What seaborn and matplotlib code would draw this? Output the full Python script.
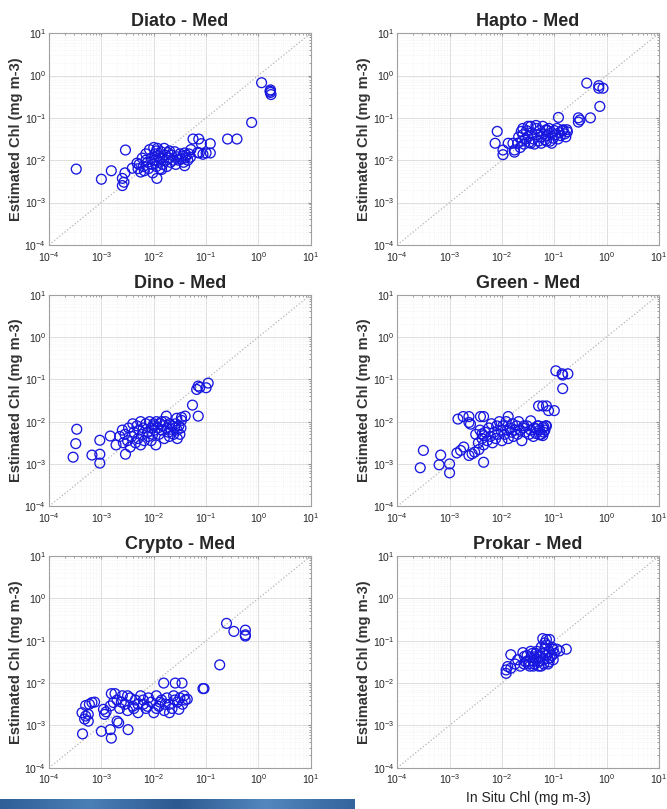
import numpy as np
import pandas as pd
import matplotlib
matplotlib.use("Agg")
import matplotlib.pyplot as plt
import seaborn as sns
from matplotlib.colors import LinearSegmentedColormap

# values are log10 of chl (mg m-3)
diato_x = [-3.48, -3.0, -2.81, -2.54, -2.6, -2.57, -2.6, -2.55, -2.41, -2.32, -1.94, -1.25, -1.14, -1.09,
           -0.92, -0.92, -1.13, -1.06, -1.0, -0.59, -0.41, -0.13, 0.06, 0.23, 0.23, 0.24, 0.22, -1.41, -1.41,
           -1.29, -1.16,
           -2.3, -2.28, -2.25, -2.22, -2.2, -2.18, -2.15, -2.12, -2.1, -2.08, -2.05, -2.03, -2.02, -2.0, -1.98,
           -1.97, -1.95, -1.93, -1.92, -1.9, -1.88, -1.86, -1.85, -1.83, -1.8, -1.78, -1.76, -1.75, -1.73, -1.7,
           -1.68, -1.66, -1.63, -1.6, -1.58, -1.55, -1.53, -1.5, -1.48, -1.45, -1.43, -1.4, -1.38, -1.35, -1.33,
           -1.3, -2.15, -1.95, -1.85, -1.7, -2.0, -1.9]
diato_y = [-2.21, -2.45, -2.25, -1.76, -2.43, -2.52, -2.6, -2.3, -2.19, -2.07, -2.43, -1.5, -1.5, -1.61,
           -1.61, -1.83, -1.83, -1.86, -1.83, -1.5, -1.5, -1.11, -0.17, -0.34, -0.4, -0.45, -0.37, -2.13, -1.83,
           -1.75, -1.82,
           -2.2, -2.1, -2.28, -1.95, -2.15, -2.25, -1.85, -2.05, -2.2, -1.75, -1.95, -2.1, -2.3, -1.7, -1.85,
           -2.0, -2.15, -1.72, -1.9, -2.05, -2.2, -1.8, -1.95, -2.1, -1.72, -1.88, -2.0, -2.15, -1.82, -1.95,
           -2.05, -1.88, -2.0, -1.8, -2.1, -1.92, -2.0, -1.85, -1.98, -1.9, -2.05, -1.95, -1.88, -2.0, -1.85,
           -1.93, -2.0, -1.78, -2.22, -1.78, -2.0, -1.95]

hapto_x = [-2.13, -2.09, -1.98, -1.98, -1.88, -1.79, -1.76, -1.76, -1.63, -0.92, -0.54, -0.54, -0.51, -0.31,
           -0.38, -0.15, -0.15, -0.07, -0.13, -0.83, -0.76, -1.15,
           -1.7, -1.68, -1.65, -1.62, -1.6, -1.58, -1.55, -1.53, -1.5, -1.48, -1.45, -1.43, -1.4, -1.38, -1.35,
           -1.33, -1.3, -1.28, -1.25, -1.22, -1.2, -1.18, -1.15, -1.12, -1.1, -1.08, -1.05, -1.02, -1.0, -0.98,
           -0.95, -0.93, -0.9, -0.88, -0.85, -0.8, -0.78, -0.75, -1.45, -1.25, -1.05, -1.6, -1.35, -1.5, -1.15]
hapto_y = [-1.6, -1.32, -1.76, -1.87, -1.6, -1.6, -1.76, -1.81, -1.32, -0.99, -1.0, -1.1, -1.05, -1.0,
           -0.18, -0.24, -0.3, -0.3, -0.73, -1.28, -1.28, -1.28,
           -1.6, -1.45, -1.7, -1.55, -1.4, -1.62, -1.5, -1.3, -1.45, -1.58, -1.2, -1.35, -1.5, -1.62, -1.25,
           -1.4, -1.55, -1.3, -1.45, -1.2, -1.38, -1.52, -1.3, -1.42, -1.25, -1.55, -1.35, -1.48, -1.3, -1.4,
           -1.25, -1.5, -1.35, -1.42, -1.3, -1.38, -1.45, -1.33, -1.6, -1.6, -1.6, -1.25, -1.18, -1.2, -1.55]

dino_x = [-3.54, -3.49, -3.47, -3.18, -3.03, -3.03, -3.03, -2.83, -2.72, -2.54, -1.4, -1.26, -1.47, -1.47,
          -1.15, -1.18, -1.12, -1.15, -1.0, -0.96, -1.76, -1.56,
          -2.65, -2.6, -2.58, -2.55, -2.5, -2.48, -2.45, -2.42, -2.4, -2.38, -2.35, -2.32, -2.3, -2.28, -2.25,
          -2.22, -2.2, -2.18, -2.15, -2.12, -2.1, -2.08, -2.05, -2.02, -2.0, -1.98, -1.96, -1.95, -1.92, -1.9,
          -1.88, -1.85, -1.82, -1.8, -1.78, -1.75, -1.72, -1.7, -1.68, -1.65, -1.62, -1.6, -1.58, -1.55, -1.52,
          -1.5, -1.48, -1.55, -1.7, -2.05, -2.25, -1.85, -2.0]
dino_y = [-2.84, -2.52, -2.18, -2.79, -2.77, -2.98, -2.44, -2.34, -2.55, -2.77, -1.87, -1.61, -1.97, -1.9,
          -1.87, -1.24, -1.19, -1.16, -1.2, -1.09, -1.87, -1.92,
          -2.35, -2.2, -2.5, -2.3, -2.45, -2.15, -2.6, -2.35, -2.05, -2.25, -2.5, -2.1, -2.4, -2.2, -2.0,
          -2.3, -2.15, -2.45, -2.05, -2.25, -2.35, -2.0, -2.15, -2.3, -2.05, -2.2, -2.55, -2.0, -2.15, -2.3,
          -2.05, -2.2, -2.1, -2.4, -2.0, -2.15, -2.25, -2.05, -2.18, -2.1, -2.3, -2.15, -2.05, -2.2, -2.1,
          -2.3, -2.15, -2.4, -2.35, -2.45, -2.55, -2.0, -2.1]

green_x = [-3.56, -3.5, -3.2, -3.17, -3.0, -3.0, -2.84, -2.74, -2.63, -2.63, -2.6, -2.86, -2.79, -2.73,
           -2.63, -2.57, -2.52, -2.44, -2.35, -2.41, -2.35, -2.38, -2.35, -1.88, -1.58, -1.45, -1.35, -1.3,
           -1.22, -1.15, -1.11, -1.0, -0.97, -0.85, -0.84, -0.74, -0.84, -1.3, -1.22, -1.16, -1.22, -1.28,
           -2.5, -2.45, -2.42, -2.38, -2.35, -2.32, -2.28, -2.25, -2.22, -2.2, -2.18, -2.15, -2.12, -2.1, -2.08,
           -2.05, -2.02, -2.0, -1.98, -1.95, -1.92, -1.9, -1.88, -1.85, -1.82, -1.8, -1.78, -1.75, -1.72, -1.7,
           -1.68, -1.65, -1.62, -1.6, -1.55, -1.52, -1.48, -1.45, -1.4, -1.38, -1.35, -1.32, -1.28, -1.25, -1.2,
           -1.18, -1.15, -1.2]
green_y = [-3.09, -2.68, -3.02, -2.79, -3.0, -3.21, -1.94, -1.88, -1.88, -2.02, -2.06, -2.74, -2.68, -2.6,
           -2.8, -2.76, -2.72, -2.66, -2.96, -1.88, -1.88, -2.29, -2.33, -1.88, -2.1, -1.98, -2.17, -1.63,
           -1.63, -1.63, -1.74, -1.74, -0.8, -0.87, -0.9, -0.87, -1.22, -2.1, -2.14, -2.1, -2.33, -2.31,
           -2.3, -2.5, -2.2, -2.4, -2.55, -2.25, -2.45, -2.15, -2.35, -2.05, -2.5, -2.25, -2.4, -2.1, -2.3,
           -2.0, -2.2, -2.45, -2.1, -2.3, -2.0, -2.2, -2.4, -2.15, -2.25, -2.05, -2.35, -2.2, -2.1, -2.3,
           -2.0, -2.2, -2.45, -2.15, -2.25, -2.1, -2.3, -2.2, -2.35, -2.15, -2.28, -2.1, -2.2, -2.3, -2.12,
           -2.2, -2.1, -2.25]

crypto_x = [-3.36, -3.37, -3.32, -3.25, -3.3, -3.25, -3.23, -3.18, -3.13, -3.3, -3.0, -2.96, -2.94, -2.91,
            -2.83, -2.77, -2.74, -2.81, -2.83, -2.81, -2.7, -2.67, -2.49, -1.81, -1.59, -1.46, -1.36, -1.52,
            -1.06, -1.04, -0.74, -0.61, -0.47, -0.25, -0.25, -0.25,
            -2.7, -2.65, -2.6, -2.55, -2.5, -2.45, -2.4, -2.35, -2.3, -2.25, -2.2, -2.15, -2.1, -2.05, -2.0,
            -1.95, -1.9, -1.85, -1.8, -1.75, -1.7, -1.65, -1.6, -1.55, -1.5, -1.45, -1.4, -2.62, -2.38, -2.12,
            -1.88, -1.62, -1.42, -2.5, -2.2, -1.95, -1.7, -2.3, -1.78]
crypto_y = [-3.2, -2.7, -2.85, -2.9, -2.78, -2.74, -2.5, -2.46, -2.45, -2.53, -3.14, -2.62, -2.74, -2.68,
            -2.54, -2.46, -2.25, -2.25, -3.1, -3.3, -2.9, -2.94, -3.1, -2.0, -2.0, -2.0, -2.38, -2.62,
            -2.13, -2.13, -1.57, -0.59, -0.78, -0.75, -0.86, -0.89,
            -2.4, -2.6, -2.3, -2.5, -2.65, -2.35, -2.55, -2.4, -2.7, -2.3, -2.5, -2.6, -2.35, -2.45, -2.7,
            -2.3, -2.55, -2.4, -2.65, -2.35, -2.5, -2.6, -2.4, -2.45, -2.35, -2.5, -2.4, -2.45, -2.6, -2.55,
            -2.45, -2.3, -2.3, -2.3, -2.4, -2.6, -2.7, -2.5, -2.5]

prokar_x = [-1.92, -1.92, -1.89, -1.83, -1.83, -1.75, -1.7, -1.65, -1.6, -1.57, -1.55, -1.52, -1.5, -1.47,
            -1.45, -1.42, -1.4, -1.38, -1.35, -1.33, -1.3, -1.28, -1.25, -1.22, -1.2, -1.18, -1.15, -1.12,
            -1.1, -1.08, -1.05, -1.22, -1.15, -1.09, -1.02, -0.9, -0.77, -1.3, -1.4, -1.2, -1.1, -1.05, -1.15,
            -1.25, -1.35, -1.45, -1.0, -0.95, -1.18, -1.28, -1.38, -1.48, -1.58, -1.12, -1.02]
prokar_y = [-1.77, -1.69, -1.61, -1.33, -1.65, -1.55, -1.45, -1.6, -1.28, -1.37, -1.5, -1.35, -1.55, -1.6,
            -1.4, -1.3, -1.48, -1.55, -1.43, -1.25, -1.5, -1.38, -1.6, -1.3, -1.45, -1.2, -1.35, -1.55,
            -1.25, -1.4, -1.15, -0.95, -0.97, -0.97, -1.2, -1.24, -1.2, -1.6, -1.6, -1.55, -1.5, -1.35, -1.1,
            -1.15, -1.3, -1.25, -1.3, -1.2, -1.05, -1.48, -1.38, -1.48, -1.55, -1.42, -1.45]

titles = ["Diato - Med", "Hapto - Med", "Dino - Med", "Green - Med", "Crypto - Med", "Prokar - Med"]
series = [(diato_x, diato_y), (hapto_x, hapto_y), (dino_x, dino_y),
          (green_x, green_y), (crypto_x, crypto_y), (prokar_x, prokar_y)]

sns.set_style("white")
plt.rcParams["font.family"] = ["Liberation Sans", "DejaVu Sans"]

fig, axes = plt.subplots(3, 2, figsize=(6.67, 8.09), dpi=100)
plt.subplots_adjust(left=0.0735, right=0.988, top=0.959, bottom=0.051, wspace=0.33, hspace=0.235)

for ax, title, (lx, ly) in zip(axes.flat, titles, series):
    df = pd.DataFrame({"insitu": np.power(10.0, lx), "est": np.power(10.0, ly)})
    ax.set_xscale("log")
    ax.set_yscale("log")
    ax.set_xlim(1e-4, 1e1)
    ax.set_ylim(1e-4, 1e1)
    ax.plot([1e-4, 1e1], [1e-4, 1e1], linestyle=":", color="#b5b5b5", linewidth=0.9, zorder=1)
    sns.scatterplot(data=df, x="insitu", y="est", ax=ax, marker="o", s=50,
                    fc="none", ec="#1717e0", linewidth=0.95, zorder=3)
    ax.grid(True, which="major", color="#dedede", linewidth=0.7, linestyle="-")
    ax.grid(True, which="minor", color="#ededed", linewidth=0.5, linestyle=":")
    ax.set_axisbelow(True)
    for sp in ax.spines.values():
        sp.set_color("#a0a0a0")
        sp.set_linewidth(0.8)
    ax.tick_params(which="both", direction="in", labelsize=7.5, color="#909090", length=2.5,
                   top=True, right=True)
    ax.tick_params(which="minor", length=1.5)
    ax.tick_params(axis="y", which="major", pad=2)
    ax.set_title(title, fontsize=13, fontweight="bold", pad=5)
    ax.set_ylabel("Estimated Chl (mg m-3)", fontsize=10.5, fontweight="bold", color="#333333", labelpad=1)
    ax.set_xlabel("")

axes[2, 1].set_xlabel("In Situ Chl (mg m-3)", fontsize=10, color="#222222", labelpad=3)

# ocean strip at the bottom of the slide
strip = fig.add_axes([0, 0, 355 / 667, 10 / 809])
ocean = LinearSegmentedColormap.from_list("ocean", ["#2f5f96", "#4a7fb6", "#2c5990", "#5387bd", "#34659c"])
strip.imshow(np.linspace(0, 1, 200).reshape(1, -1), aspect="auto", cmap=ocean)
strip.axis("off")

fig.savefig("out.png", dpi=100)
